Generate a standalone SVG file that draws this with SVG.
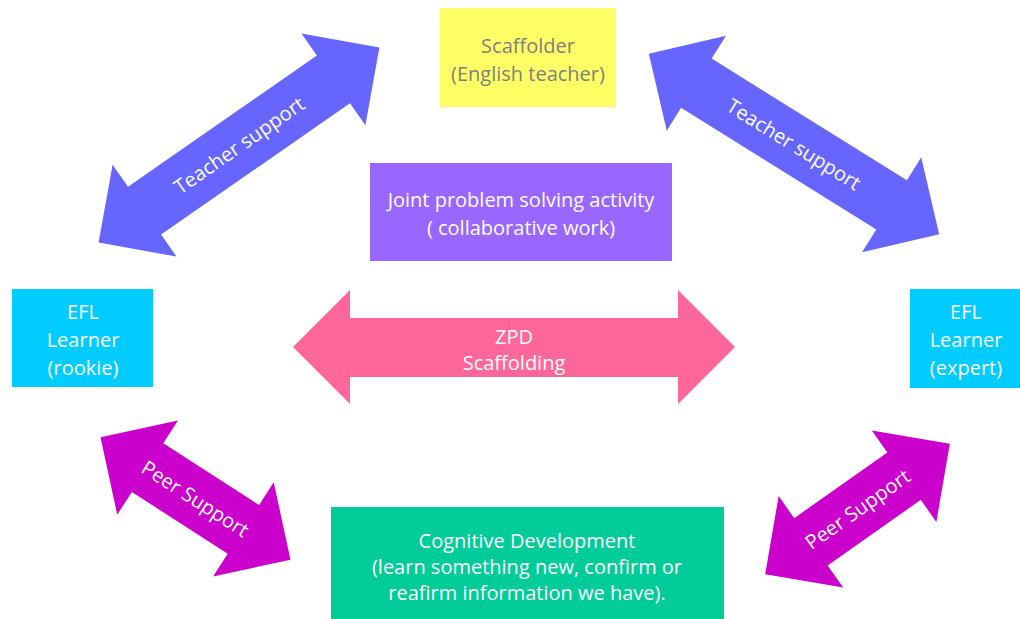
<svg xmlns="http://www.w3.org/2000/svg" width="1020" height="619" viewBox="0 0 1020 619">
<style>
  text { font-family: "Open Sans", Lato, "Liberation Sans", sans-serif; font-size: 20px; text-anchor: middle; dominant-baseline: central; }
  .w { fill: #FFFFFF; }
  .g { fill: #7F7F7F; }
  .blue { fill: #6666FF; }
  .mag { fill: #CC00CC; }
  .pink { fill: #FF6699; }
</style>
<rect width="1020" height="619" fill="#FFFFFF"/>
<g id="connectors">
  <g id="teacher-left" transform="translate(239,145) rotate(-34.8)">
    <polygon class="blue" points="-171,0 -115,-56 -115,-29 115,-29 115,-56 171,0 115,56 115,29 -115,29 -115,56"/>
    <text class="w" x="0" y="0">Teacher support</text>
  </g>
  <g id="teacher-right" transform="translate(794,144) rotate(31.9)">
    <polygon class="blue" points="-171,0 -115,-56 -115,-29 115,-29 115,-56 171,0 115,56 115,29 -115,29 -115,56"/>
    <text class="w" x="0" y="0">Teacher support</text>
  </g>
  <g id="zpd">
    <polygon class="pink" points="293,347 350,290 350,318 678,318 678,290 735,347 678,404 678,377 350,377 350,404"/>
    <text class="w" x="514" y="336">ZPD</text>
    <text class="w" x="514" y="362">Scaffolding</text>
  </g>
  <g id="peer-left" transform="translate(195.5,498.5) rotate(32.8)">
    <polygon class="mag" points="-113,0 -57,-56 -57,-29 57,-29 57,-56 113,0 57,56 57,29 -57,29 -57,56"/>
    <text class="w" x="0" y="0">Peer Support</text>
  </g>
  <g id="peer-right" transform="translate(857.5,509) rotate(-35.2)">
    <polygon class="mag" points="-113,0 -57,-56 -57,-29 57,-29 57,-56 113,0 57,56 57,29 -57,29 -57,56"/>
    <text class="w" x="0" y="0">Peer Support</text>
  </g>
</g>
<g id="scaffolder">
  <rect x="440" y="8" width="176" height="99" fill="#FFFF66"/>
  <text class="g" x="528" y="45">Scaffolder</text>
  <text class="g" x="528" y="73">(English teacher)</text>
</g>
<g id="joint">
  <rect x="370" y="163" width="302" height="98" fill="#9966FF"/>
  <text class="w" x="521" y="199">Joint problem solving activity</text>
  <text class="w" x="521" y="227">( collaborative work)</text>
</g>
<g id="efl-rookie">
  <rect x="12" y="289" width="141" height="98" fill="#00CCFF"/>
  <text class="w" x="83" y="311">EFL</text>
  <text class="w" x="83" y="339">Learner</text>
  <text class="w" x="83" y="367">(rookie)</text>
</g>
<g id="efl-expert">
  <rect x="910" y="289" width="110" height="99" fill="#00CCFF"/>
  <text class="w" x="966" y="311">EFL</text>
  <text class="w" x="966" y="339">Learner</text>
  <text class="w" x="966" y="367">(expert)</text>
</g>
<g id="cognitive">
  <rect x="331" y="507" width="393" height="112" fill="#00CC99"/>
  <text class="w" x="527" y="540">Cognitive Development</text>
  <text class="w" x="527" y="566">(learn something new, confirm or</text>
  <text class="w" x="527" y="592">reafirm information we have).</text>
</g>
</svg>
